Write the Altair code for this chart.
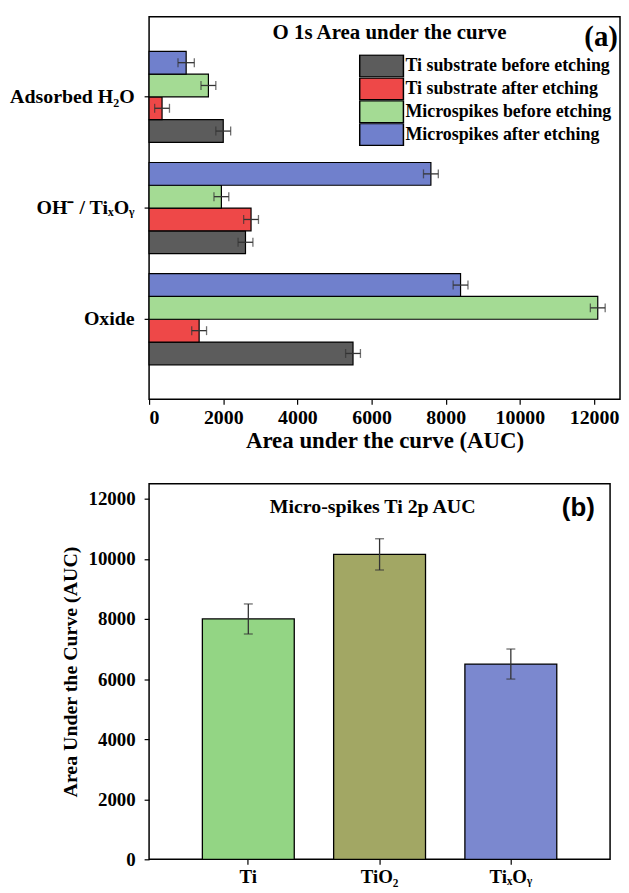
import altair as alt
import pandas as pd

# ---------------- data: panel (a) O 1s ----------------
groups_a = ["Adsorbed H₂O", "OH⁻ / TiₓOᵧ", "Oxide"]
series_a = [
    "Ti substrate before etching",
    "Ti substrate after etching",
    "Microspikes before etching",
    "Microspikes after etching",
]
colors_a = ["#5c5c5c", "#ee4848", "#a4db94", "#7080cc"]

ti_before_vals = [2000, 2600, 5500]
ti_after_vals = [350, 2750, 1350]
ms_before_vals = [1600, 1950, 12100]
ms_after_vals = [1000, 7600, 8400]

ti_before_err = [200, 200, 200]
ti_after_err = [200, 200, 200]
ms_before_err = [200, 200, 200]
ms_after_err = [220, 200, 200]

# ---------------- data: panel (b) Ti 2p ----------------
cats_b = ["Ti", "TiO₂", "TiₓOᵧ"]
vals_b = [8000, 10150, 6500]
err_b = [500, 520, 500]
colors_b = ["#93d584", "#a2a764", "#7b88cf"]

# ---------------- build tables ----------------
rows = []
for s, vals, errs in zip(
    series_a,
    [ti_before_vals, ti_after_vals, ms_before_vals, ms_after_vals],
    [ti_before_err, ti_after_err, ms_before_err, ms_after_err],
):
    for g, v, e in zip(groups_a, vals, errs):
        rows.append({"group": g, "series": s, "value": v, "lo": v - e, "hi": v + e})
df_a = pd.DataFrame(rows)

df_b = pd.DataFrame({"cat": cats_b, "value": vals_b,
                     "lo": [v - e for v, e in zip(vals_b, err_b)],
                     "hi": [v + e for v, e in zip(vals_b, err_b)]})

SERIF = "Liberation Serif"
offset_sort = list(reversed(series_a))
tick_vals = list(range(0, 13000, 1000))

# ---------------- panel (a) ----------------
xa = alt.X("value:Q",
           scale=alt.Scale(domain=[0, 12700], nice=False, zero=True),
           axis=alt.Axis(values=tick_vals,
                         labelExpr="datum.value % 2000 === 0 ? datum.label : ''",
                         format="d", title="Area under the curve (AUC)",
                         labelFontSize=20, titleFontSize=23, labelPadding=3,
                         titlePadding=2))
ya = alt.Y("group:N", sort=groups_a,
           scale=alt.Scale(paddingInner=0.18, paddingOuter=0.31),
           axis=alt.Axis(title=None, labelFontSize=20, labelPadding=10, labelLimit=300))
yoff = alt.YOffset("series:N", sort=offset_sort,
                   scale=alt.Scale(paddingInner=0, paddingOuter=0))

base_a = alt.Chart(df_a)
bars_a = base_a.mark_bar(stroke="black", strokeWidth=1.2).encode(
    x=xa, y=ya, yOffset=yoff,
    color=alt.Color("series:N", sort=series_a,
                    scale=alt.Scale(domain=series_a, range=colors_a),
                    legend=alt.Legend(title=None, orient="none", legendX=211, legendY=38,
                                      symbolType="M-1,-1H3V1H-1Z", symbolSize=484,
                                      symbolStrokeColor="black", symbolStrokeWidth=1.5,
                                      symbolOpacity=1, labelFont=SERIF,
                                      labelFontWeight="bold", labelFontSize=18,
                                      labelColor="black", labelOffset=23,
                                      clipHeight=23, rowPadding=0, padding=0,
                                      labelLimit=400)),
)
err_rule_a = base_a.mark_rule(color="#333333", strokeWidth=1.3).encode(
    x="lo:Q", x2="hi:Q", y=alt.Y("group:N", sort=groups_a), yOffset=yoff)
cap_lo_a = base_a.mark_tick(color="#333333", thickness=1.3, size=9).encode(
    x="lo:Q", y=alt.Y("group:N", sort=groups_a), yOffset=yoff)
cap_hi_a = base_a.mark_tick(color="#333333", thickness=1.3, size=9).encode(
    x="hi:Q", y=alt.Y("group:N", sort=groups_a), yOffset=yoff)

title_a = alt.Chart(pd.DataFrame({"t": ["O 1s Area under the curve"]})).mark_text(
    font=SERIF, fontWeight="bold", fontSize=21, color="black", align="center",
    baseline="middle").encode(text="t:N", x=alt.value(242), y=alt.value(16))
tag_a = alt.Chart(pd.DataFrame({"t": ["(a)"]})).mark_text(
    font=SERIF, fontWeight="bold", fontSize=29, color="black", align="center",
    baseline="middle").encode(text="t:N", x=alt.value(455), y=alt.value(20))

panel_a = alt.layer(bars_a, err_rule_a, cap_lo_a, cap_hi_a, title_a, tag_a).properties(
    width=474, height=385)

# ---------------- panel (b) ----------------
base_b = alt.Chart(df_b)
xb = alt.X("cat:N", sort=cats_b,
           scale=alt.Scale(paddingInner=0.3, paddingOuter=0.406),
           axis=alt.Axis(title=None, labelAngle=0, labelFontSize=19, labelPadding=3))
yb = alt.Y("value:Q", scale=alt.Scale(domain=[0, 12500], nice=False),
           axis=alt.Axis(values=tick_vals,
                         labelExpr="datum.value % 2000 === 0 ? datum.label : ''",
                         format="d", title="Area Under the Curve (AUC)",
                         labelFontSize=19, titleFontSize=20, labelPadding=9,
                         titlePadding=8))
bars_b = base_b.mark_bar(stroke="black", strokeWidth=1.3).encode(
    x=xb, y=yb,
    color=alt.Color("cat:N", sort=cats_b,
                    scale=alt.Scale(domain=cats_b, range=colors_b), legend=None))
err_rule_b = base_b.mark_rule(color="#333333", strokeWidth=1.3).encode(
    x=alt.X("cat:N", sort=cats_b), y="lo:Q", y2="hi:Q")
cap_lo_b = base_b.mark_tick(color="#333333", thickness=1.3, size=9).encode(
    x=alt.X("cat:N", sort=cats_b), y="lo:Q")
cap_hi_b = base_b.mark_tick(color="#333333", thickness=1.3, size=9).encode(
    x=alt.X("cat:N", sort=cats_b), y="hi:Q")

title_b = alt.Chart(pd.DataFrame({"t": ["Micro-spikes Ti 2p AUC"]})).mark_text(
    font=SERIF, fontWeight="bold", fontSize=20, color="black", align="center",
    baseline="middle").encode(text="t:N", x=alt.value(225), y=alt.value(23))
tag_b = alt.Chart(pd.DataFrame({"t": ["(b)"]})).mark_text(
    font="Liberation Sans", fontWeight="bold", fontSize=26, color="black",
    align="center", baseline="middle").encode(text="t:N", x=alt.value(432), y=alt.value(24))

panel_b = alt.layer(bars_b, err_rule_b, cap_lo_b, cap_hi_b, title_b, tag_b).properties(
    width=464, height=378)

chart = alt.vconcat(panel_a, panel_b, spacing=30).resolve_scale(
    color="independent"
).properties(
    padding={"left": 0, "top": 5, "right": 0, "bottom": 0}
).configure_view(
    stroke="black", strokeWidth=1.5
).configure_axis(
    domain=False, grid=False, labelFont=SERIF, titleFont=SERIF,
    labelFontWeight="bold", titleFontWeight="bold", labelColor="black",
    titleColor="black", tickColor="black", tickSize=5, tickWidth=1.2
)

chart.save("out.html", embed_options={"renderer": "svg", "actions": False})
